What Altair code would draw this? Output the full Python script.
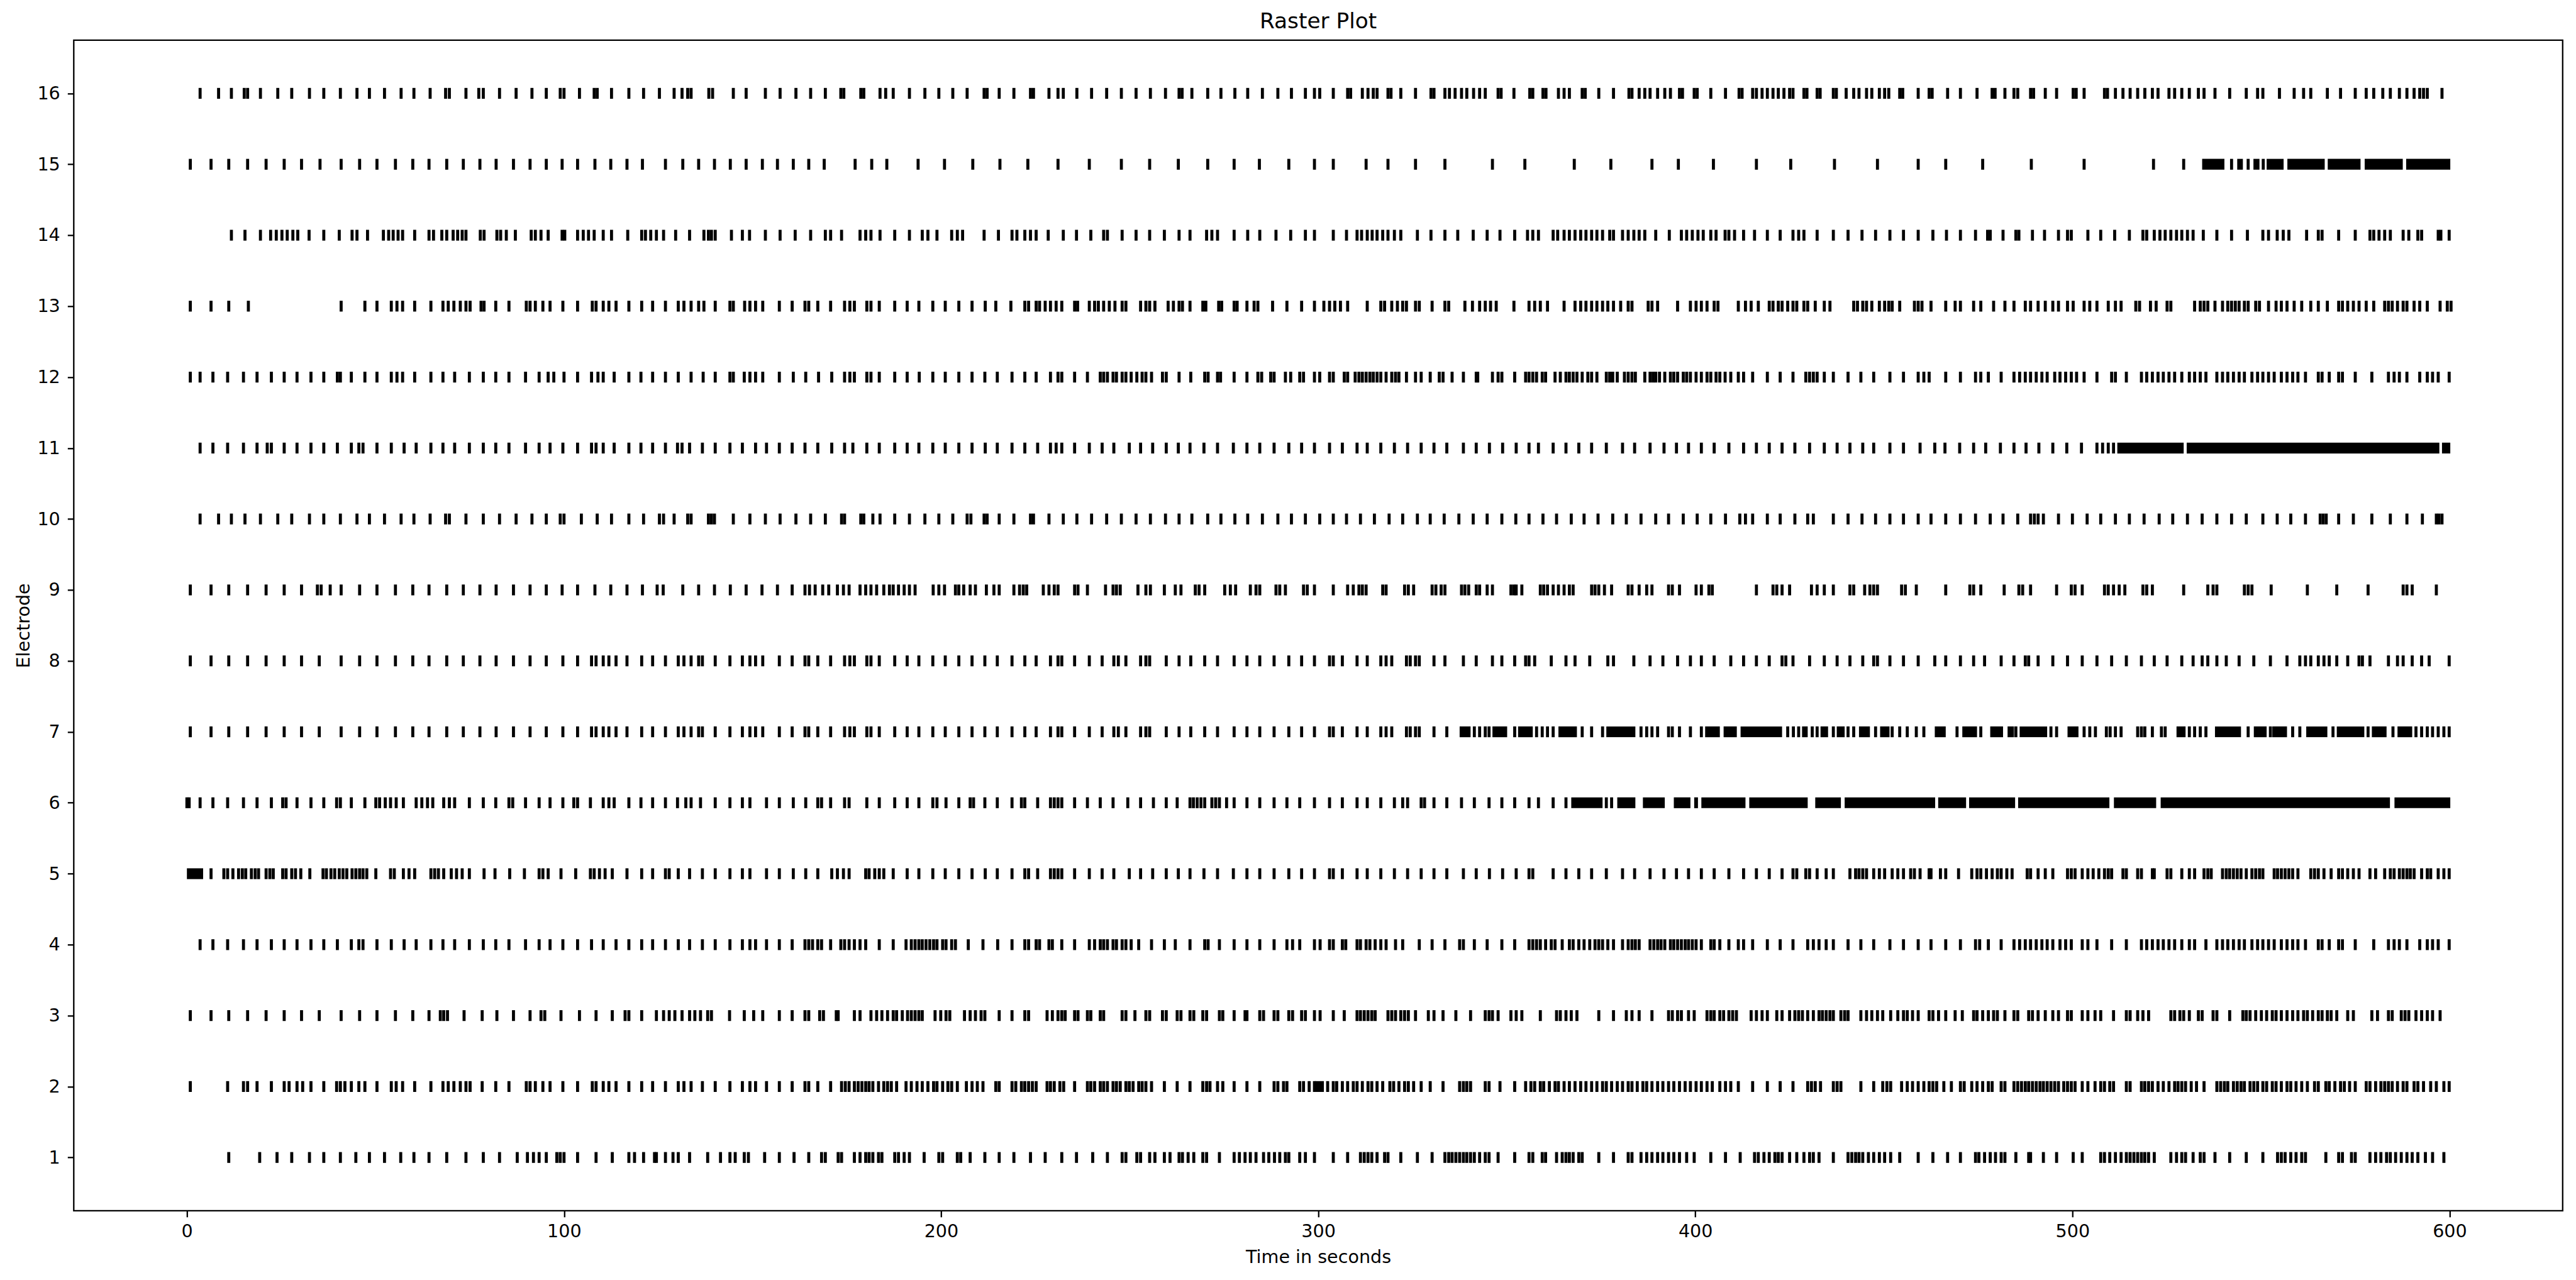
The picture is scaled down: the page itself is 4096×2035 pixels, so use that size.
import altair as alt
import pandas as pd

# ---------------- spike times (seconds), per electrode ----------------
e16 = [3.5, 8.4, 11.8, 15.2, 16.1, 19.5, 24.1, 27.8, 32.5, 36.3, 40.7, 45.1, 48.4, 52.4, 56.8, 60.2, 64.5, 68.6, 69.6, 74.0, 77.4, 78.6, 82.9, 87.3, 91.5, 95.3, 99.0, 100.0, 104.1, 108.0, 108.8, 112.6, 117.2, 121.1, 125.3, 129.2, 131.3, 132.8, 133.7, 138.4, 139.4, 144.9, 148.3,
       153.4, 157.3, 161.5, 165.4, 169.3, 173.4, 174.2, 178.7, 179.5, 183.8, 185.3, 187.3, 191.6, 195.7, 199.4, 203.1, 206.9, 211.4, 212.2, 215.4, 219.3, 223.7, 224.5, 228.6, 231.0, 232.4, 236.0, 239.9, 243.9, 247.8, 251.7, 255.5, 259.5, 263.1, 263.9, 266.5, 270.7, 274.2, 277.9, 281.3, 285.2, 289.3, 292.9, 296.6, 299.0,
       300.4, 304.0, 307.8, 308.6, 311.7, 313.2, 314.6, 315.6, 318.5, 319.3, 321.9, 325.8, 329.9, 330.7, 333.6, 334.8, 336.3, 338.0, 339.4, 341.2, 342.8, 344.3, 347.7, 348.5, 351.9, 356.1, 356.9, 359.6, 360.4, 363.7, 365.2, 366.6, 370.0, 370.8, 374.4, 378.3, 382.4, 383.2, 385.1, 386.6, 388.0, 390.0, 391.9, 393.4, 395.8, 396.6, 399.7, 400.5, 404.1, 408.0, 411.6, 412.4, 415.2, 416.2, 417.7, 419.1, 420.6, 422.0, 423.5, 425.0, 425.9, 428.8, 429.6, 432.3, 433.1, 436.6, 437.4, 440.0, 442.0, 443.4, 445.4, 446.8, 448.8, 450.2,
       451.3, 454.2, 455.0, 459.1, 462.0, 462.8, 466.9, 470.3, 474.7, 478.7, 479.5, 482.1, 484.5, 485.5, 488.9, 489.7, 492.8, 495.8, 500.2, 501.0, 503.1, 508.5, 509.3, 511.4, 513.4, 515.3, 517.3, 519.2, 521.2, 522.7, 525.6, 527.1, 529.0, 531.0, 533.4, 534.9, 537.8, 541.7, 546.1, 549.1, 550.5, 554.9, 558.8, 561.3, 563.2, 567.6, 571.1, 575.0, 577.9, 579.9, 582.3, 584.3, 586.7, 588.7, 590.6, 592.1, 593.1, 594.1, 598.0]

e15 = [0.9, 6.4, 11.1, 16.1, 21.0, 25.8, 30.4, 35.3, 40.9, 45.8, 50.4, 55.3, 59.9, 64.2, 68.9, 73.3, 77.7, 82.0, 86.6, 91.0, 95.3, 99.5, 103.6, 108.2, 112.4, 116.7, 120.8, 126.9, 131.5, 135.7, 139.9, 144.1, 148.3,
       152.6, 156.6, 160.8, 164.9, 169.0, 177.2, 181.6, 185.6, 193.9, 200.9, 208.4, 215.6, 223.0, 231.0, 239.3, 247.8, 255.3, 262.9, 270.7, 277.7, 284.4, 292.2, 299.0,
       304.0, 312.7, 318.5, 325.8, 333.6, 346.2, 354.8, 367.9, 377.6, 388.5, 395.5, 404.8, 416.2, 425.3, 436.9, 448.3,
       459.1, 466.4, 476.2, 489.1, 503.1, 521.5, 529.5, 542.2, 546.6, 550.6]

e14 = [11.8, 15.4, 19.5, 22.2, 23.7, 25.2, 26.6, 28.1, 29.4, 32.4, 36.3, 40.4, 43.8, 45.1, 47.9, 52.1, 53.5, 54.7, 56.0, 57.2, 60.4, 64.2, 65.4, 67.6, 68.9, 70.6, 71.8, 73.0, 74.0, 77.8, 78.8, 82.2, 83.2, 84.7, 87.1, 91.3, 92.4, 93.9, 95.8, 99.5, 100.2, 103.6, 105.1, 106.5, 108.0, 110.4, 112.6, 116.9, 120.6, 121.6, 123.0, 124.5, 126.4, 129.6, 133.3, 137.1, 138.3, 139.1, 140.1, 144.4, 147.3,
       149.2, 153.4, 157.3, 161.3, 165.4, 169.3, 170.7, 173.6, 178.5, 180.0, 181.4, 183.8, 187.7, 191.6, 195.0, 196.5, 198.9, 202.8, 204.3, 205.7, 211.4, 215.2, 218.8, 220.1, 222.2, 223.7, 225.2, 228.4, 232.4, 235.9, 239.7, 243.1, 244.1, 248.0, 251.7, 255.3, 259.2, 263.1, 266.0, 270.4, 271.8, 273.3, 277.7, 281.3, 284.5, 288.8, 292.7, 296.6, 299.0,
       304.0, 307.5, 310.3, 311.5, 313.0, 314.3, 315.6, 317.1, 318.5, 320.2, 321.9, 326.3, 329.9, 333.6, 337.0, 341.1, 344.8, 348.2, 352.1, 355.5, 356.9, 358.4, 362.3, 363.5, 365.2, 366.6, 368.1, 369.6, 371.0, 372.5, 373.9, 375.4, 377.3, 378.3, 380.7, 382.2, 383.7, 385.1, 386.6, 389.5, 393.1, 396.3, 397.7, 399.2, 400.7, 402.1, 404.1, 405.5, 407.9, 408.9, 410.4, 412.8, 415.7, 419.1, 422.5, 425.9, 427.4, 428.8, 432.3, 436.6, 440.5, 444.2, 447.8,
       451.6, 455.2, 459.1, 463.0, 466.6, 470.3, 474.3, 477.5, 478.2, 481.6, 485.0, 485.8, 489.4, 492.6, 496.3, 498.7, 499.7, 504.1, 507.5, 511.2, 515.1, 518.7, 519.7, 521.7, 523.2, 524.6, 526.1, 527.6, 529.0, 530.5, 532.0, 534.7, 538.3, 542.2, 546.4, 550.5, 552.0, 554.3, 555.9, 557.4, 562.1, 565.2, 566.2, 570.6, 575.0, 578.9, 579.9, 581.3, 582.8, 584.3, 587.7, 589.2, 591.6, 592.6, 597.0, 597.7, 599.9]

e13 = [0.9, 6.4, 11.1, 16.3, 40.9, 47.2, 50.4, 54.2, 55.7, 57.2, 60.4, 64.7, 67.9, 69.3, 70.8, 72.5, 74.0, 75.1, 78.0, 78.8, 81.9, 85.4, 90.0, 91.0, 92.4, 94.4, 96.3, 99.7, 103.6, 107.5, 108.5, 110.4, 111.9, 113.8, 117.2, 120.6, 123.5, 126.9, 130.3, 131.8, 133.7, 135.7, 137.1, 140.1, 144.0, 144.9,
       147.9, 149.3, 150.8, 152.7, 157.1, 160.5, 163.9, 164.9, 167.3, 170.7, 174.4, 175.8, 177.0, 180.3, 181.4, 183.6, 187.7, 191.0, 194.1, 197.8, 201.1, 204.7, 208.2, 211.7, 214.5, 218.5, 222.2, 223.2, 225.2, 226.1, 227.6, 229.0, 230.5, 232.0, 235.4, 236.2, 239.3, 240.7, 241.7, 243.1, 244.6, 246.1, 248.0, 249.0, 252.9, 254.3, 255.3, 256.7, 260.2, 261.6, 263.1, 264.0, 266.0, 269.4, 270.2, 273.6, 274.4, 277.7, 278.5, 281.1, 283.0, 284.0, 287.9, 291.7, 295.6, 299.0,
       301.5, 303.0, 304.4, 305.9, 307.8, 313.0, 316.6, 317.6, 319.5, 321.0, 322.4, 323.4, 325.8, 326.8, 330.2, 333.6, 334.6, 338.9, 340.9, 342.8, 344.3, 345.7, 347.2, 351.9, 355.9, 357.4, 358.9, 360.8, 365.2, 368.1, 369.6, 371.0, 372.5, 373.9, 375.4, 376.8, 378.3, 380.2, 382.2, 383.2, 387.5, 388.5, 390.0, 395.3, 398.7, 400.2, 401.6, 403.1, 405.0, 406.0, 411.4, 413.3, 414.8, 416.7, 419.6, 420.6, 422.0, 423.0, 424.5, 425.9, 426.9, 428.8, 429.8, 431.8, 434.2, 435.7, 442.0, 443.0, 444.4, 445.4, 446.8, 448.8, 450.2,
       451.3, 452.2, 454.2, 458.1, 459.1, 460.1, 462.5, 466.4, 468.9, 470.3, 473.8, 475.7, 479.1, 482.1, 484.5, 487.5, 488.9, 490.9, 492.8, 494.8, 496.3, 498.7, 500.2, 503.1, 504.6, 506.5, 509.5, 511.4, 512.9, 516.8, 517.8, 520.7, 522.2, 525.1, 526.1, 532.4, 533.9, 534.9, 535.9, 537.8, 539.8, 541.2, 542.2, 543.2, 544.2, 545.6, 546.6, 548.6, 549.6, 552.0, 554.0, 555.4, 556.9, 558.8, 560.8, 563.2, 565.2, 567.6, 570.6, 571.6, 573.0, 574.5, 576.0, 577.9, 579.9, 582.8, 583.8, 584.8, 586.2, 587.7, 588.7, 590.6, 592.1, 594.1, 597.5, 599.4, 600.4]

e12 = [0.9, 3.5, 6.9, 10.8, 15.0, 18.6, 22.4, 25.8, 29.2, 32.9, 36.3, 39.9, 40.7, 43.6, 47.2, 50.4, 54.2, 55.7, 57.2, 60.4, 64.7, 67.9, 71.0, 74.9, 78.6, 81.9, 85.4, 89.8, 93.4, 95.8, 97.3, 100.0, 103.6, 107.3, 109.0, 110.4, 113.3, 117.2, 120.4, 123.5, 126.9, 130.3, 133.7, 136.9, 140.1, 144.0, 144.9, 147.8,
       149.3, 150.8, 152.7, 157.1, 160.8, 164.1, 167.5, 171.0, 174.4, 175.8, 177.0, 180.3, 181.4, 183.6, 187.7, 191.0, 194.2, 197.8, 201.1, 204.7, 208.2, 211.6, 214.9, 218.8, 222.2, 225.2, 229.0, 231.0, 232.0, 235.4, 238.8, 242.2, 243.1, 244.1, 245.6, 246.5, 248.0, 249.0, 250.4, 251.9, 253.3, 254.3, 255.8, 258.7, 259.7, 263.1, 266.2, 269.9, 270.8, 273.3, 274.1, 277.7, 281.1, 284.0, 285.0, 287.4, 288.3, 291.3, 292.7, 295.1, 296.1, 299.0,
       300.4, 303.0, 304.0, 306.9, 307.8, 309.8, 310.8, 311.7, 312.7, 313.7, 314.6, 315.6, 316.6, 318.0, 319.5, 320.5, 321.4, 323.4, 325.8, 327.3, 329.7, 332.1, 333.1, 335.5, 338.5, 341.9, 342.3, 346.2, 347.7, 348.7, 352.1, 355.0, 355.9, 356.9, 357.9, 359.4, 360.3, 362.8, 364.2, 365.7, 366.6, 367.6, 368.6, 370.0, 371.5, 372.5, 373.9, 376.4, 377.3, 378.1, 379.3, 381.2, 382.2, 383.2, 384.1, 386.6, 388.0, 388.8, 389.5, 390.5, 391.9, 393.4, 394.3, 395.3, 396.8, 397.7, 398.7, 400.2, 401.6, 403.1, 404.1, 405.5, 406.5, 407.9, 409.4, 411.4, 412.8, 415.2, 419.1, 422.5, 425.9, 429.3, 430.3, 431.3, 432.3, 434.2, 436.6, 440.5, 443.9, 447.3,
       451.6, 455.2, 459.1, 460.6, 462.0, 466.4, 470.3, 474.3, 475.7, 477.7, 481.1, 484.5, 486.0, 487.5, 488.9, 490.4, 491.9, 493.3, 495.3, 496.7, 498.2, 499.7, 501.1, 503.1, 506.5, 510.4, 511.4, 514.3, 518.3, 519.7, 521.2, 522.7, 524.1, 525.6, 527.1, 529.0, 531.0, 532.4, 533.9, 535.4, 538.3, 539.8, 541.2, 542.7, 544.2, 545.6, 547.6, 549.1, 550.5, 552.0, 553.5, 555.4, 556.9, 558.4, 559.8, 561.8, 565.2, 566.2, 568.1, 570.6, 571.6, 575.0, 579.4, 583.8, 585.3, 586.7, 588.7, 592.1, 594.1, 595.5, 597.0, 599.9]

e11 = [3.5, 6.9, 10.8, 15.0, 18.6, 21.3, 22.4, 25.8, 29.2, 32.9, 36.3, 39.9, 43.6, 45.6, 46.7, 50.4, 54.2, 57.6, 60.8, 64.7, 67.9, 71.0, 74.9, 78.6, 81.9, 85.4, 89.8, 93.4, 96.3, 99.7, 103.6, 107.3, 108.5, 110.4, 113.3, 117.2, 120.4, 123.5, 126.9, 130.1, 131.3, 133.3, 136.7, 140.1, 144.0, 147.3,
       150.8, 153.7, 157.1, 160.5, 163.9, 167.3, 171.0, 174.4, 176.6, 180.3, 183.6, 187.7, 191.0, 194.1, 197.8, 201.1, 204.7, 208.2, 211.7, 214.9, 218.8, 222.2, 225.6, 229.0, 230.5, 232.0, 235.4, 239.3, 242.7, 245.8, 249.9, 252.9, 256.1, 259.7, 262.9, 266.0, 269.7, 273.3, 277.5, 281.1, 284.5, 288.3, 292.2, 295.6, 299.0,
       303.0, 306.4, 310.3, 313.0, 316.6, 320.2, 323.7, 327.3, 330.7, 334.1, 338.5, 341.9, 345.4, 348.9, 352.5, 355.9, 358.4, 362.3, 365.7, 369.1, 372.5, 376.4, 380.7, 383.9, 388.0, 391.7, 395.0, 398.2, 401.6, 405.0, 408.9, 412.8, 416.2, 419.6, 423.0, 426.4, 430.3, 434.2, 437.6, 441.0, 444.4, 447.3,
       451.6, 455.2, 459.6, 463.5, 466.2, 470.1, 473.8, 477.0, 480.9, 484.5, 487.7, 491.1, 494.8, 498.5, 502.4, 506.5, 508.0, 509.5, 510.9]

e10 = [3.5, 8.4, 11.8, 15.4, 19.5, 24.1, 27.8, 32.5, 36.3, 40.7, 45.1, 48.4, 52.4, 56.8, 60.2, 64.5, 68.6, 69.6, 74.0, 78.6, 82.9, 87.3, 91.5, 95.3, 99.0, 100.0, 104.6, 108.8, 112.6, 117.2, 121.1, 125.3, 126.4, 129.2, 132.8, 133.7, 138.3, 139.1, 139.9, 144.9,
       149.3, 153.4, 157.3, 161.5, 165.4, 169.3, 173.6, 174.4, 178.7, 179.5, 181.9, 183.8, 187.7, 191.6, 195.7, 199.4, 203.1, 206.9, 207.9, 211.4, 212.2, 215.4, 219.3, 223.7, 224.5, 228.6, 232.4, 236.0, 239.9, 243.9, 247.8, 251.7, 255.5, 259.5, 263.1, 266.5, 270.7, 274.2, 277.9, 281.3, 285.2, 289.3, 292.9, 296.6,
       300.4, 304.0, 307.5, 311.2, 314.9, 318.8, 322.4, 326.3, 329.7, 333.4, 337.3, 341.1, 344.8, 348.7, 352.4, 355.9, 359.6, 363.2, 367.1, 370.5, 374.2, 378.1, 381.7, 385.6, 389.5, 392.9, 396.8, 400.5, 404.1, 408.0, 411.8, 413.3, 415.2, 419.1, 422.5, 426.4, 429.8, 431.3, 436.6, 440.5, 444.2, 447.8,
       451.6, 455.2, 459.1, 462.5, 466.4, 470.3, 474.3, 478.2, 481.6, 485.5, 488.9, 489.9, 490.9, 492.3, 496.3, 500.0, 503.9, 507.5, 511.4, 515.1, 519.0, 523.0, 526.6, 530.5, 534.4, 538.3, 542.2, 546.1, 550.5, 554.3, 557.9, 561.8, 565.7, 566.5, 567.3, 570.6, 574.5, 579.4, 584.3, 588.7, 592.8, 596.5, 597.2, 598.0]

e9 = [0.9, 6.4, 11.1, 16.1, 21.0, 25.8, 30.4, 34.6, 35.6, 38.0, 40.9, 45.8, 50.4, 55.3, 59.9, 64.2, 68.9, 73.3, 77.7, 82.0, 86.6, 91.0, 95.3, 99.5, 103.6, 108.2, 112.4, 116.7, 120.8, 124.7, 126.3, 131.5, 135.7, 139.9, 144.1, 148.3,
      152.5, 156.6, 160.5, 163.9, 165.1, 166.6, 168.6, 170.2, 172.5, 174.1, 175.6, 178.5, 180.0, 181.4, 182.9, 184.8, 186.3, 187.3, 188.7, 190.2, 191.6, 193.1, 197.9, 199.4, 200.9, 203.8, 204.7, 206.0, 207.7, 209.1, 212.0, 214.0, 215.4, 219.3, 220.8, 221.8, 222.7, 227.1, 228.6, 230.0, 231.0, 235.4, 236.3, 238.8, 243.6, 245.6, 246.5, 247.5, 252.2, 254.3, 255.5, 259.2, 262.1, 263.6, 267.4, 268.4, 269.9, 275.2, 276.7, 278.1, 282.0, 283.5, 284.5, 288.8, 289.8, 291.3, 296.1, 297.1, 299.0,
      304.0, 307.8, 309.3, 310.8, 311.7, 312.7, 317.1, 318.0, 322.9, 323.9, 325.3, 330.2, 331.2, 332.6, 333.6, 338.0, 338.9, 339.9, 341.9, 342.8, 344.8, 346.2, 351.1, 351.9, 352.5, 354.0, 358.9, 359.8, 360.8, 362.3, 363.7, 365.2, 366.6, 367.6, 372.5, 373.4, 374.4, 375.9, 377.8, 382.2, 383.2, 385.1, 387.1, 388.5, 392.9, 393.9, 395.8, 400.2, 401.6, 403.6, 404.5, 416.2, 420.6, 421.6, 423.0, 425.0, 430.8, 432.3, 434.2, 436.6, 441.0, 442.0, 444.9, 446.3, 447.3, 448.3,
      454.7, 455.7, 458.6, 466.4, 472.8, 473.8, 475.7, 481.9, 485.8, 486.8, 488.9, 495.8, 499.7, 500.7, 502.6, 508.5, 509.5, 510.9, 512.4, 513.9, 518.7, 519.7, 521.2, 529.5, 535.9, 537.3, 538.3, 545.6, 546.6, 547.6, 552.7, 562.3, 570.1, 578.4, 587.7, 588.7, 590.1, 596.5]

e8 = [0.9, 6.4, 11.1, 16.1, 21.0, 25.8, 30.4, 35.1, 40.9, 45.8, 50.4, 55.3, 59.9, 64.2, 68.9, 73.3, 77.7, 82.0, 86.6, 91.0, 95.3, 99.7, 103.6, 107.3, 108.5, 110.4, 111.9, 113.8, 116.7, 120.6, 123.5, 126.9, 130.3, 131.8, 133.7, 135.7, 136.7, 140.1, 144.0, 147.3,
      149.3, 150.8, 152.7, 157.1, 160.5, 163.9, 164.9, 167.3, 170.7, 174.4, 175.8, 177.0, 180.3, 181.4, 183.6, 187.7, 191.0, 194.1, 197.8, 201.1, 204.7, 208.2, 211.6, 214.9, 218.8, 222.2, 225.2, 229.0, 231.0, 232.0, 235.4, 239.3, 242.7, 245.8, 247.0, 249.0, 252.9, 254.3, 255.3, 259.7, 263.1, 266.2, 269.9, 273.3, 277.7, 281.1, 284.5, 288.3, 292.2, 295.6, 299.0,
      303.0, 304.0, 306.4, 310.3, 313.0, 316.6, 318.0, 319.5, 323.4, 324.4, 325.8, 326.8, 330.7, 333.6, 338.5, 341.9, 346.2, 348.7, 352.1, 355.0, 355.9, 357.4, 361.8, 365.7, 368.1, 372.0, 376.8, 378.3, 383.7, 388.0, 391.4, 395.3, 398.7, 401.6, 405.0, 409.4, 412.8, 416.2, 419.6, 423.0, 424.0, 425.9, 430.3, 434.2, 437.6, 441.0, 444.4, 447.3, 448.3,
      451.6, 455.2, 459.1, 463.5, 466.4, 470.3, 473.8, 476.7, 481.1, 484.5, 487.5, 488.4, 490.9, 494.8, 498.7, 502.6, 506.5, 510.4, 514.3, 518.3, 521.7, 525.1, 529.0, 532.0, 534.4, 535.9, 538.3, 540.8, 544.2, 548.1, 552.5, 556.9, 560.3, 561.8, 563.2, 565.2, 566.7, 568.1, 570.1, 573.0, 576.0, 576.9, 578.9, 583.8, 586.2, 587.7, 590.1, 592.6, 594.6, 599.9]

e7 = [0.9, 6.4, 11.1, 16.1, 21.0, 25.8, 30.4, 35.1, 40.9, 45.8, 50.4, 55.3, 59.9, 64.2, 68.9, 73.3, 77.7, 82.0, 86.6, 91.0, 95.3, 99.7, 103.6, 107.3, 108.5, 110.4, 111.9, 113.8, 116.7, 120.6, 123.5, 126.9, 130.3, 131.8, 133.7, 135.7, 136.7, 140.1, 144.0, 147.3,
      149.3, 150.8, 152.7, 157.1, 160.5, 163.9, 164.9, 167.3, 170.7, 174.4, 175.8, 177.0, 180.3, 181.4, 183.6, 187.7, 191.0, 194.1, 197.8, 201.1, 204.7, 208.2, 211.6, 214.9, 218.8, 222.2, 225.2, 229.0, 231.0, 232.0, 235.4, 239.3, 242.7, 245.8, 247.0, 249.0, 252.9, 254.3, 255.3, 259.7, 263.1, 266.2, 269.9, 273.3, 277.7, 281.1, 284.5, 288.3, 292.2, 295.6, 299.0,
      303.0, 304.0, 306.4, 310.3, 313.0, 316.6, 318.0, 319.5, 323.4, 324.4, 325.8, 326.8, 330.7, 334.1, 341.4, 342.8, 344.3, 345.3, 352.1, 357.9, 359.4, 360.8, 362.3, 370.0, 372.5, 375.4, 385.6, 387.1, 388.5, 390.0, 392.9, 393.9, 395.8, 398.7, 401.6, 424.5, 426.0, 427.4, 431.0, 432.3, 436.6, 440.5, 442.0, 447.8,
      452.2, 454.2, 456.2, 458.6, 460.6, 469.4, 475.7, 485.0, 494.3, 495.8, 503.1, 504.6, 506.1, 509.0, 510.0, 511.4, 512.9, 517.3, 518.3, 519.2, 521.2, 523.6, 524.6, 531.0, 532.4, 533.9, 535.4, 546.6, 552.5, 558.4, 560.3, 569.1, 578.4, 585.0, 591.1, 592.6, 594.1, 595.5, 597.0, 598.5, 599.9]

e6 = [0.0, 0.6, 3.5, 6.9, 10.8, 15.0, 18.6, 22.4, 25.4, 26.3, 29.2, 32.9, 36.3, 39.7, 40.7, 43.6, 47.2, 50.1, 51.1, 52.6, 54.0, 55.5, 57.4, 60.8, 62.3, 63.8, 65.2, 68.1, 69.6, 71.0, 74.9, 78.6, 81.9, 85.4, 86.4, 89.8, 93.4, 96.3, 99.7, 102.6, 103.6, 107.0, 110.4, 111.9, 113.3, 117.2, 120.4, 123.5, 126.9, 130.1, 132.3, 133.7, 136.2, 140.1, 144.0, 147.3,
      149.3, 153.7, 157.1, 160.8, 164.1, 167.3, 168.3, 170.7, 174.4, 175.6, 180.3, 183.6, 187.7, 191.0, 194.1, 197.8, 198.9, 201.3, 204.7, 207.7, 208.6, 211.6, 214.9, 218.8, 221.3, 222.2, 225.6, 229.0, 230.0, 231.0, 232.0, 235.4, 238.8, 242.2, 245.6, 249.5, 252.9, 256.3, 259.7, 262.6, 266.0, 266.9, 267.9, 268.9, 269.9, 271.8, 272.8, 273.8, 275.7, 277.7, 281.1, 284.5, 288.3, 291.7, 295.1, 299.0,
      303.0, 306.4, 310.3, 313.0, 316.6, 320.2, 322.4, 323.7, 327.3, 328.2, 330.7, 334.1, 338.0, 341.4, 345.3, 348.7, 352.1, 355.9, 358.4, 362.3, 365.7, 376.4, 377.8]

e5 = [6.4, 9.8, 10.8, 12.2, 13.7, 14.7, 15.6, 17.1, 18.1, 19.0, 21.0, 22.0, 22.9, 25.4, 26.3, 27.8, 28.8, 30.2, 32.6, 36.1, 37.0, 38.2, 39.2, 40.4, 41.4, 42.4, 43.8, 44.8, 45.8, 46.7, 47.7, 50.1, 54.0, 55.0, 57.4, 58.9, 60.4, 64.7, 65.7, 66.7, 68.1, 70.1, 71.5, 73.0, 74.9, 78.8, 81.7, 85.6, 89.5, 93.4, 94.4, 95.8, 99.2, 103.1, 107.0, 108.0, 109.4, 110.9, 112.8, 116.7, 120.6, 123.5, 126.9, 127.9, 130.3, 133.3, 136.7, 140.1, 144.0, 147.3,
      149.3, 153.7, 157.1, 160.8, 164.1, 167.3, 171.0, 172.5, 174.1, 175.6, 180.0, 180.9, 182.4, 183.6, 184.8, 187.3, 191.0, 194.1, 197.8, 201.1, 204.7, 208.2, 211.7, 214.9, 218.8, 222.2, 223.2, 225.6, 229.0, 230.0, 231.0, 232.0, 235.4, 239.3, 242.7, 245.8, 249.9, 252.9, 256.1, 259.7, 262.9, 266.0, 269.7, 273.3, 277.5, 281.1, 284.5, 288.3, 292.2, 295.6, 299.0,
      303.0, 304.0, 306.4, 310.3, 313.0, 316.6, 320.2, 323.7, 327.3, 330.7, 334.1, 338.5, 341.9, 345.4, 348.9, 352.5, 355.9, 356.9, 362.3, 365.7, 369.1, 372.5, 376.4, 380.7, 383.9, 388.0, 391.7, 395.0, 398.2, 401.6, 405.0, 408.9, 412.8, 416.2, 419.6, 423.0, 425.9, 426.9, 429.3, 430.3, 432.3, 434.7, 436.6, 441.0, 442.5, 443.4, 444.4, 445.4, 447.3, 448.8, 450.2,
      452.2, 453.7, 455.2, 457.1, 458.1, 459.6, 462.0, 462.5, 465.0, 466.4, 469.8, 473.3, 474.7, 475.7, 477.2, 478.7, 480.1, 481.1, 482.6, 484.0, 488.0, 488.9, 490.9, 492.8, 494.8, 498.7, 499.7, 500.7, 502.6, 504.1, 505.5, 507.0, 508.5, 509.5, 510.4, 513.4, 514.3, 517.3, 518.3, 521.2, 521.7, 525.1, 526.1, 529.0, 531.0, 532.4, 534.9, 535.9, 536.8, 539.8, 540.8, 541.7, 542.7, 543.7, 544.7, 546.1, 547.6, 548.6, 549.6, 550.5, 553.5, 554.4, 555.4, 556.4, 557.4, 558.4, 559.8, 563.2, 564.2, 565.2, 566.7, 568.6, 570.6, 571.6, 573.0, 574.5, 576.0, 578.9, 580.4, 582.8, 584.3, 585.3, 586.7, 587.7, 588.7, 589.6, 590.6, 592.6, 594.1, 595.0, 597.0, 598.5, 599.9]

e4 = [3.5, 6.9, 10.8, 15.0, 18.6, 22.4, 25.8, 29.2, 32.9, 36.3, 39.9, 43.6, 45.6, 46.7, 50.4, 54.2, 57.6, 60.8, 64.7, 67.9, 71.0, 74.9, 78.6, 81.9, 85.4, 89.8, 93.4, 96.3, 99.7, 103.6, 107.3, 110.4, 113.8, 117.2, 120.6, 123.5, 126.9, 130.3, 133.3, 136.7, 140.1, 144.0, 147.3,
      149.3, 150.8, 153.7, 157.1, 160.5, 163.9, 164.9, 165.9, 167.3, 168.3, 170.7, 173.4, 174.4, 175.6, 177.0, 178.5, 180.0, 183.6, 187.3, 190.7, 192.1, 193.1, 194.1, 195.0, 196.0, 197.0, 198.0, 198.9, 200.4, 201.3, 202.8, 203.8, 207.2, 211.1, 215.0, 218.8, 222.2, 223.2, 225.2, 226.1, 228.6, 229.5, 232.0, 235.4, 239.3, 240.7, 242.2, 243.1, 244.1, 245.6, 246.5, 248.0, 249.0, 250.4, 252.4, 255.8, 259.2, 262.1, 266.0, 269.9, 270.8, 273.8, 277.7, 281.1, 284.5, 288.3, 291.7, 293.2, 295.1, 299.0,
      300.5, 303.0, 304.0, 306.4, 307.3, 310.3, 311.2, 312.7, 313.7, 315.1, 316.6, 318.0, 320.5, 322.4, 326.8, 330.2, 333.6, 337.5, 338.5, 341.4, 344.8, 348.7, 352.1, 355.9, 356.9, 357.9, 358.9, 360.3, 361.8, 362.8, 364.7, 366.6, 367.6, 369.1, 370.5, 372.0, 373.4, 374.4, 375.4, 376.8, 378.3, 380.7, 382.2, 383.2, 384.1, 385.1, 388.0, 389.0, 390.0, 390.9, 391.9, 393.4, 394.3, 395.3, 396.3, 397.3, 398.2, 399.2, 400.2, 401.6, 404.1, 405.0, 406.5, 408.9, 411.4, 412.8, 415.2, 419.1, 422.5, 425.9, 429.8, 431.3, 432.8, 434.7, 436.6, 440.5, 443.9, 447.3,
      451.6, 455.2, 459.1, 462.5, 466.4, 470.3, 474.3, 475.4, 477.7, 481.1, 484.5, 486.0, 487.5, 488.9, 490.4, 491.9, 493.3, 494.8, 496.7, 498.2, 499.7, 502.6, 504.1, 506.5, 510.4, 514.3, 518.3, 519.7, 521.2, 522.7, 524.1, 525.6, 527.1, 529.0, 531.0, 532.4, 535.4, 538.3, 539.8, 541.2, 542.7, 544.2, 545.6, 547.6, 549.1, 550.5, 552.0, 553.5, 555.4, 556.9, 558.4, 559.8, 561.8, 565.2, 566.2, 568.1, 570.6, 571.6, 575.0, 579.9, 583.8, 585.3, 586.7, 588.7, 592.1, 594.1, 595.5, 597.0, 599.9]

e3 = [0.9, 6.4, 11.1, 16.1, 21.0, 25.8, 30.4, 35.1, 40.9, 45.8, 50.4, 55.3, 59.9, 64.2, 67.2, 68.1, 69.1, 73.5, 78.3, 82.2, 86.6, 91.0, 93.9, 94.9, 99.2, 104.1, 108.5, 112.8, 116.2, 117.2, 120.6, 124.5, 126.4, 127.9, 129.4, 131.3, 133.3, 134.7, 136.2, 138.1, 139.1, 143.9, 147.8,
      150.3, 152.7, 157.1, 160.5, 163.9, 164.9, 167.8, 168.8, 172.2, 172.7, 177.0, 178.5, 181.4, 182.9, 184.3, 185.8, 187.3, 188.2, 189.7, 191.1, 192.1, 193.1, 194.1, 195.0, 198.4, 199.9, 201.3, 202.3, 206.2, 207.7, 209.1, 210.6, 211.6, 215.4, 218.8, 222.2, 223.2, 228.1, 229.5, 231.0, 232.0, 232.9, 235.4, 236.3, 238.8, 239.7, 242.2, 243.1, 248.0, 249.0, 251.4, 254.3, 255.3, 258.7, 259.7, 262.6, 263.6, 266.0, 267.0, 269.4, 270.4, 273.8, 274.7, 277.7, 280.6, 281.1, 284.5, 285.5, 288.3, 289.3, 292.2, 293.2, 295.6, 296.6, 299.0,
      300.5, 304.0, 306.9, 310.3, 311.2, 312.2, 313.2, 314.2, 315.1, 318.5, 319.5, 320.5, 321.9, 322.9, 323.9, 325.8, 329.2, 330.7, 333.1, 336.5, 340.4, 344.3, 345.3, 346.2, 347.7, 351.1, 352.5, 354.0, 358.9, 363.2, 364.2, 365.7, 367.1, 368.6, 374.4, 378.3, 381.7, 383.2, 385.1, 388.5, 392.9, 393.9, 395.3, 396.3, 398.2, 399.7, 403.1, 404.1, 405.0, 406.5, 407.5, 408.9, 409.9, 410.9, 414.8, 416.2, 417.7, 419.1, 421.6, 423.0, 425.0, 426.4, 427.4, 428.4, 429.8, 431.3, 432.8, 433.7, 434.7, 435.7, 436.6, 438.6, 439.6, 440.5, 443.9, 445.4, 446.8, 448.3, 449.7,
      451.8, 453.7, 455.2, 456.2, 457.6, 459.1, 462.0, 463.0, 464.5, 466.4, 468.9, 470.8, 473.8, 474.7, 476.2, 477.7, 479.1, 480.1, 482.1, 484.5, 485.5, 488.4, 489.4, 490.9, 492.8, 494.8, 496.3, 498.7, 499.7, 502.6, 504.1, 506.0, 507.5, 510.9, 514.3, 515.3, 517.3, 518.7, 520.2, 526.1, 527.1, 528.5, 529.5, 531.0, 533.4, 534.4, 537.3, 538.3, 541.7, 545.2, 546.1, 547.1, 548.6, 550.1, 551.5, 553.0, 554.0, 555.4, 556.9, 558.4, 559.8, 561.3, 562.3, 563.7, 565.2, 566.2, 567.6, 568.6, 570.1, 573.0, 574.5, 579.4, 580.9, 583.8, 584.8, 587.2, 588.2, 589.2, 591.1, 592.6, 594.1, 595.5, 597.5]

e2 = [0.9, 10.8, 15.0, 16.1, 18.6, 22.4, 25.8, 27.1, 29.2, 30.7, 32.9, 36.3, 39.7, 40.7, 41.9, 43.6, 45.6, 47.2, 50.4, 54.2, 55.5, 57.2, 60.4, 64.7, 67.9, 69.3, 70.8, 72.5, 74.0, 75.1, 78.3, 81.9, 85.4, 90.0, 91.0, 92.4, 94.4, 96.3, 99.7, 103.6, 107.5, 108.5, 110.4, 111.9, 113.8, 117.2, 120.6, 123.5, 126.9, 130.3, 131.8, 133.7, 136.7, 140.1, 144.0, 147.3,
      149.3, 150.8, 153.7, 157.1, 160.5, 163.9, 164.9, 167.3, 170.7, 173.6, 174.6, 175.6, 177.0, 178.0, 179.0, 180.0, 180.9, 181.9, 183.4, 184.8, 185.8, 186.8, 188.2, 190.7, 192.1, 193.6, 195.0, 196.5, 198.0, 198.9, 200.4, 201.8, 202.8, 204.3, 206.7, 208.2, 209.6, 211.1, 214.5, 215.4, 218.8, 219.8, 221.3, 222.2, 223.2, 224.2, 225.2, 228.1, 229.0, 230.0, 231.5, 232.5, 235.4, 238.8, 239.7, 240.7, 242.2, 243.1, 244.1, 245.6, 246.5, 247.5, 249.0, 249.9, 250.9, 252.4, 253.3, 254.3, 255.8, 259.2, 262.6, 266.0, 269.4, 270.4, 271.3, 273.3, 274.7, 277.7, 281.1, 284.5, 288.3, 289.3, 290.8, 291.7, 295.1, 296.1, 297.6, 299.0,
      302.5, 304.0, 304.9, 306.4, 307.8, 309.3, 310.3, 311.7, 313.2, 314.2, 315.6, 317.1, 319.0, 320.0, 321.4, 322.9, 323.9, 325.3, 327.3, 329.7, 333.1, 337.5, 338.5, 339.4, 340.4, 344.3, 345.3, 348.2, 352.1, 355.0, 356.4, 357.4, 358.9, 359.8, 361.3, 362.8, 363.7, 365.2, 366.6, 368.1, 369.6, 371.0, 372.5, 373.9, 375.4, 376.4, 377.8, 379.3, 380.7, 382.2, 383.2, 384.6, 386.1, 387.1, 388.5, 390.0, 391.4, 392.9, 394.3, 395.8, 397.3, 398.7, 400.2, 401.6, 403.1, 404.5, 406.5, 408.0, 409.4, 411.4, 415.2, 419.1, 422.5, 425.9, 429.8, 430.8, 431.8, 433.2, 436.6, 437.6, 438.6, 443.9, 447.3, 449.7,
      450.8, 451.8, 454.7, 456.2, 457.6, 459.1, 460.6, 462.0, 463.0, 464.0, 465.9, 467.9, 470.3, 471.3, 473.3, 474.7, 476.2, 477.7, 478.7, 481.1, 482.1, 484.5, 485.5, 486.5, 487.5, 488.4, 489.4, 490.4, 491.4, 492.3, 493.3, 494.3, 495.3, 496.3, 497.7, 498.7, 499.7, 500.7, 502.6, 504.1, 506.0, 507.5, 508.5, 509.9, 510.9, 514.3, 515.3, 518.3, 519.2, 520.2, 521.2, 522.7, 524.1, 525.6, 527.1, 528.0, 529.0, 530.0, 531.5, 532.9, 534.9, 538.3, 539.3, 540.3, 541.2, 542.7, 543.7, 544.7, 545.6, 547.1, 548.1, 549.1, 550.5, 551.5, 553.0, 554.0, 555.4, 556.9, 557.9, 559.3, 560.8, 562.3, 564.2, 565.2, 567.2, 568.1, 569.6, 571.1, 572.1, 573.5, 575.0, 577.9, 578.9, 580.4, 581.8, 582.8, 583.8, 584.8, 586.2, 587.7, 588.7, 590.6, 591.6, 593.1, 595.0, 596.5, 598.5, 599.9]

e1 = [11.1, 19.3, 23.9, 27.8, 32.5, 36.3, 40.7, 44.8, 48.4, 52.4, 56.7, 60.2, 64.2, 68.9, 74.0, 78.6, 82.9, 87.6, 90.3, 91.9, 93.4, 95.3, 98.1, 99.0, 100.0, 103.6, 108.5, 112.8, 117.2, 118.7, 121.1, 124.0, 124.5, 126.9, 128.9, 130.3, 133.3, 138.1, 141.5, 144.0, 145.4, 147.8,
      148.9, 153.2, 157.1, 161.0, 164.9, 168.3, 169.3, 172.7, 173.6, 177.0, 178.5, 180.0, 180.9, 181.9, 183.4, 184.3, 187.7, 188.7, 190.2, 191.6, 195.5, 199.4, 200.4, 204.3, 205.2, 207.7, 211.6, 215.4, 219.3, 223.7, 227.6, 232.0, 235.9, 240.2, 244.1, 248.0, 249.0, 251.9, 252.9, 255.3, 256.7, 259.2, 260.7, 263.1, 264.0, 265.5, 267.0, 269.4, 270.4, 273.8, 277.7, 279.1, 280.6, 282.0, 283.5, 285.5, 286.9, 288.4, 289.8, 291.3, 292.2, 295.1, 296.6, 299.0,
      304.0, 307.8, 311.2, 312.2, 313.2, 314.2, 315.6, 317.6, 318.5, 321.9, 326.3, 330.2, 333.6, 334.6, 335.5, 336.5, 337.5, 338.5, 339.4, 340.4, 341.4, 342.8, 344.3, 345.3, 347.7, 352.1, 355.9, 356.9, 359.4, 360.3, 363.2, 364.7, 365.7, 366.6, 367.6, 369.1, 370.0, 374.4, 378.3, 382.2, 383.2, 385.6, 387.1, 388.5, 390.0, 391.4, 392.9, 394.3, 395.8, 397.7, 399.7, 404.1, 408.0, 411.9, 415.7, 416.7, 418.2, 419.6, 421.1, 422.0, 423.0, 425.0, 426.9, 428.8, 430.3, 431.3, 432.8, 436.6, 440.5, 441.5, 442.5, 443.4, 444.4, 445.9, 447.3, 448.8, 450.2,
      451.8, 454.2, 459.1, 463.0, 466.9, 470.3, 474.3, 475.2, 476.7, 478.2, 479.6, 481.1, 482.1, 485.0, 488.4, 488.9, 492.3, 495.8, 500.2, 502.6, 507.5, 508.5, 509.9, 511.4, 512.9, 514.3, 515.3, 516.3, 517.3, 518.3, 519.2, 520.2, 521.7, 526.1, 527.6, 529.0, 530.0, 532.0, 533.9, 534.9, 537.8, 541.7, 546.1, 550.5, 554.4, 555.4, 556.4, 557.9, 559.3, 560.8, 561.8, 567.2, 570.6, 571.6, 574.0, 575.0, 578.9, 580.4, 581.8, 583.3, 584.3, 585.7, 587.2, 588.7, 590.1, 591.6, 593.6, 595.5, 598.5]

# stretches where the spikes merge into a solid black band: [start, end] in seconds
b15 = [[534.4, 540.3], [543.7, 545.2], [548.0, 549.6], [551.5, 556.0], [557.0, 566.9], [567.7, 576.4], [577.5, 587.6], [588.5, 600.2]]
b11 = [[511.9, 529.5], [530.3, 597.3], [598.0, 600.2]]
b7 = [[337.5, 340.4], [346.2, 350.1], [353.0, 356.9], [363.7, 368.6], [376.4, 384.1], [402.6, 406.5], [407.5, 411.0], [412.0, 423.0], [428.3, 429.8], [433.2, 435.2], [437.5, 439.6], [443.4, 446.3], [449.0, 451.5],
      [463.5, 466.4], [470.8, 474.7], [478.2, 481.6], [482.8, 484.5], [486.0, 493.3], [498.7, 501.6], [527.6, 530.0], [537.8, 544.7], [548.1, 551.5], [553.0, 556.9], [562.0, 567.6], [570.1, 577.4], [579.4, 583.3], [586.2, 590.1]]
b6 = [[367.1, 375.4], [379.3, 384.1], [386.1, 391.9], [394.3, 398.7], [399.7, 400.7], [401.6, 413.3], [414.3, 429.8], [431.8, 438.6], [439.6, 463.6], [464.4, 471.8], [472.6, 484.8], [485.6, 509.8], [511.0, 522.2], [523.4, 584.2], [585.4, 600.2]]
b5 = [[0.0, 4.3]]
b2 = [[299.1, 301.5]]

x_ticks = [0, 100, 200, 300, 400, 500, 600]
y_ticks = list(range(1, 17))

spikes = {16: e16, 15: e15, 14: e14, 13: e13, 12: e12, 11: e11, 10: e10, 9: e9,
          8: e8, 7: e7, 6: e6, 5: e5, 4: e4, 3: e3, 2: e2, 1: e1}
bursts = {15: b15, 11: b11, 7: b7, 6: b6, 5: b5, 2: b2}

df = pd.DataFrame([{"t": t, "electrode": k} for k, v in spikes.items() for t in v])
bdf = pd.DataFrame([{"start": s, "end": e, "electrode": k} for k, v in bursts.items() for s, e in v])

# ---------------- layout (0.686 of the reference) ----------------
W, H = 3957.5, 1861.0
FONT = "DejaVu Sans"

xs = alt.Scale(domain=[-30, 630], nice=False, zero=False)
ys = alt.Scale(domain=[0.25, 16.75], nice=False, zero=False)

def xaxis():
    return alt.Axis(values=x_ticks, format="d", grid=False, domain=False, labelPadding=9, titlePadding=12)

def yaxis():
    return alt.Axis(values=y_ticks, format="d", grid=False, domain=False, labelPadding=12, titlePadding=6)

bands = alt.Chart(bdf).mark_rule(color="black", strokeWidth=17.2, strokeCap="butt", opacity=1).encode(
    x=alt.X("start:Q", scale=xs, axis=xaxis(), title="Time in seconds"),
    x2="end:Q",
    y=alt.Y("electrode:Q", scale=ys, axis=yaxis(), title="Electrode"),
)

ticks = alt.Chart(df).mark_tick(orient="vertical", size=17.2, thickness=4.8, color="black", opacity=1).encode(
    x=alt.X("t:Q", scale=xs, axis=xaxis(), title="Time in seconds"),
    y=alt.Y("electrode:Q", scale=ys, axis=yaxis(), title="Electrode"),
)

chart = (
    alt.layer(bands, ticks)
    .properties(
        width=W,
        height=H,
        background="white",
        title=alt.TitleParams(
            text="Raster Plot", font=FONT, fontSize=34.3, fontWeight="normal", color="black",
            anchor="middle", frame="group", offset=12,
        ),
        autosize=alt.AutoSizeParams(type="none"),
        padding={"left": 117.3, "top": 63.8, "right": 21.2, "bottom": 110.2},
    )
    .configure_view(stroke="black", strokeWidth=2.3)
    .configure_axis(
        domain=False, grid=False, tickColor="black", tickWidth=2.3, tickSize=10,
        labelFont=FONT, labelFontSize=28.6, labelColor="black",
        titleFont=FONT, titleFontSize=28.6, titleFontWeight="normal", titleColor="black",
        labelOverlap=False, labelFlush=False,
    )
)

chart.save("out.html", embed_options={"renderer": "svg", "actions": False})
